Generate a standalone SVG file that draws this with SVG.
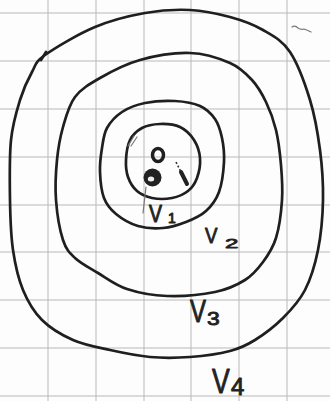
<svg xmlns="http://www.w3.org/2000/svg" width="330" height="401" viewBox="0 0 330 401">
<style>
.grid line{stroke:#b9b9b9;stroke-width:1}
.ring{fill:none;stroke:#1f1f1f;stroke-width:2.7;stroke-linecap:round;stroke-linejoin:round}
.lbl{font-family:"Liberation Sans",Arial,sans-serif;fill:#222;stroke:#222;stroke-width:0.9;stroke-linejoin:round}
.faint{fill:none;stroke:#777;stroke-width:1.2;stroke-linecap:round}
</style>
<rect width="330" height="401" fill="#fdfdfd"/>
<g class="grid" id="grid">
<line x1="48" y1="0" x2="48" y2="401"/><line x1="96" y1="0" x2="96" y2="401"/><line x1="144" y1="0" x2="144" y2="401"/><line x1="191" y1="0" x2="191" y2="401"/><line x1="239" y1="0" x2="239" y2="401"/><line x1="287" y1="0" x2="287" y2="401"/>
<line x1="0" y1="13" x2="330" y2="13"/><line x1="0" y1="61" x2="330" y2="61"/><line x1="0" y1="109" x2="330" y2="109"/><line x1="0" y1="157" x2="330" y2="157"/><line x1="0" y1="205" x2="330" y2="205"/><line x1="0" y1="252" x2="330" y2="252"/><line x1="0" y1="300" x2="330" y2="300"/><line x1="0" y1="348" x2="330" y2="348"/><line x1="0" y1="396" x2="330" y2="396"/>
</g>
<g id="V4">
<path class="ring" d="M45 55 C55.5 47.5 78.3 34 95 27 S129.2 15.8 145 13 S175.8 9.3 190 10 S217.8 13.7 230 17 S253 24.2 263 30 S282.2 40.3 290 52 S305 83.7 310 100 S317.8 133.3 320 150 S323.3 183.3 323 200 S321 235 318 250 S310.8 278.7 305 290 S291.3 309.7 283 318 S263.8 334.5 255 340 S240.8 348.2 230 351 S203.3 356 190 357 S163.3 358.2 150 357 S122.8 352.8 110 350 S84.3 345 73 340 S50.3 328.3 42 320 S27.8 301.7 23 290 S15.2 265 13 250 S10.3 218.3 10 200 S9.3 156.7 11 140 S16.5 111.3 20 100 S27.8 79.5 32 72 S34.5 62.5 45 55 Z"/>
<path class="ring" d="M41 60 L46 52"/>
<text class="lbl" transform="translate(212,393) scale(0.74,1)" font-size="36">V</text>
<text class="lbl" x="231" y="395" font-size="24">4</text>
</g>
<g id="V3">
<path class="ring" d="M75 97 C81.2 88.8 89.2 84.2 100 78 S125 64.2 140 60 S175 52.5 190 53 S219.7 58.5 230 63 S246 73.5 252 80 S262 93.7 266 102 S273.5 119.5 276 130 S280 153.3 281 165 S282.8 187.8 282 200 S279.2 227.7 276 238 S268.2 255 263 262 S253 275 245 280 S228 289.3 215 292 S181.7 296.5 167 296 S138.5 292.8 127 289 S106.7 278.2 98 273 S80.8 263.5 75 258 S66.2 249.7 63 240 S57 213.3 56 200 S55.8 172.2 57 160 S60 137.5 63 127 S68.8 105.2 75 97 Z"/>
<text class="lbl" transform="translate(190,322) scale(0.75,1)" font-size="32">V</text>
<text class="lbl" transform="translate(207,325) scale(1.2,1)" font-size="19">3</text>
</g>
<g id="V2">
<path class="ring" d="M107 128 C110.3 122 115.7 116.2 122 112 S136.2 104.8 145 103 S165.8 100.5 175 101 S193.3 103 200 106 S211.3 113.7 215 119 S220.5 130.8 222 138 S224.5 153 224 162 S222 183.8 219 192 S211.5 206 206 211 S193.2 219.2 186 222 S171 227.3 163 228 S145.8 228.3 138 226 S121.7 218.7 116 214 S106.7 205 104 198 S100.3 180.3 100 172 S100.8 155.3 102 148 S103.7 134 107 128 Z"/>
<text class="lbl" transform="translate(205,243) scale(0.85,1)" font-size="22">V</text>
<text class="lbl" transform="translate(225,248) scale(1.6,0.9)" font-size="15">2</text>
</g>
<g id="V1">
<path class="ring" d="M130 140 C132.7 134.7 137 130.7 142 128 S153.7 124.2 160 124 S174.3 124.3 180 127 S190.7 134.8 194 140 S199.5 151.7 200 158 S199 172.5 197 178 S192.2 187.7 188 191 S178 196.8 172 198 S157.8 199.2 152 198 S141 194.5 137 191 S129.8 182.2 128 177 S125.7 166.2 126 160 S127.3 145.3 130 140 Z"/>
<path class="faint" d="M128 146 L134 136 M131 146 L137 137"/>
<ellipse cx="158" cy="155" rx="5.5" ry="6.5" fill="none" stroke="#1f1f1f" stroke-width="3.5"/>
<circle cx="152.5" cy="177.5" r="9" fill="#222"/>
<ellipse cx="151" cy="179" rx="3.2" ry="2.5" fill="#eee"/>
<path d="M176 162 L181 172" fill="none" stroke="#333" stroke-width="1.6" stroke-dasharray="2 2"/>
<path d="M181 172 L187 184" fill="none" stroke="#222" stroke-width="4" stroke-linecap="round"/>
<path class="faint" d="M146 187 L143 213"/>
<text class="lbl" transform="translate(149,222) scale(0.85,1)" font-size="23">V</text>
<text class="lbl" x="168" y="223" font-size="14">1</text>
</g>
<path class="faint" d="M292 27 q3 -2 6 1 q3 2 6 1 q3 1 7 3"/>
</svg>
